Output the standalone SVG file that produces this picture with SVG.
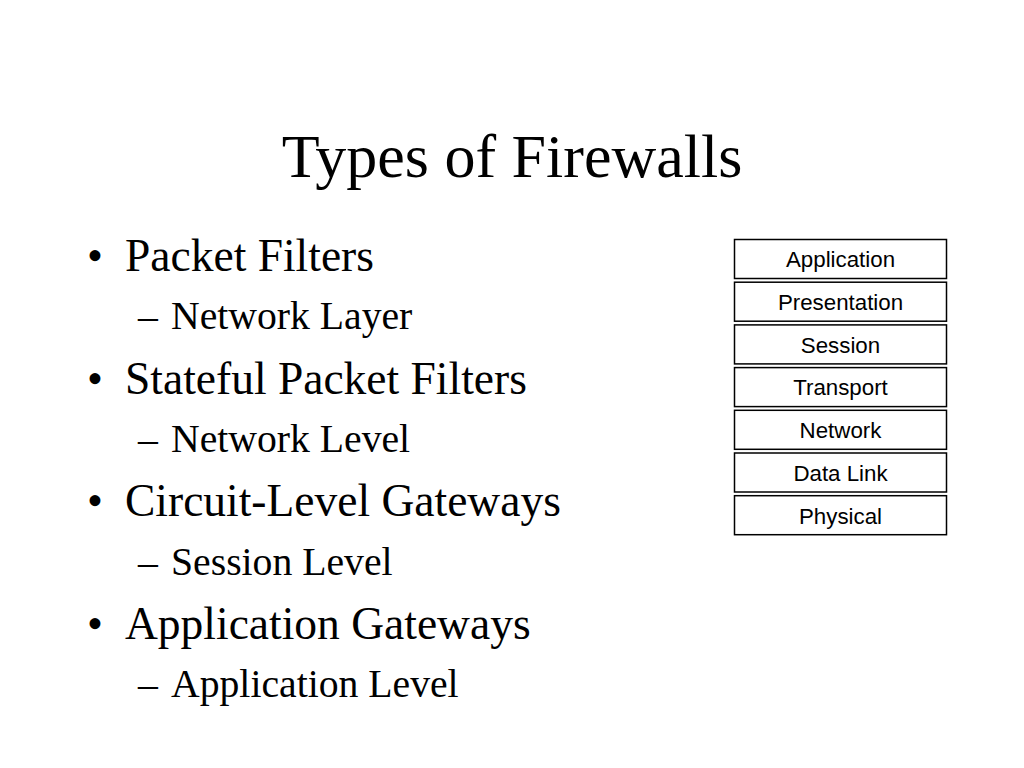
<svg xmlns="http://www.w3.org/2000/svg" width="1024" height="768" viewBox="0 0 1024 768">
<style>
.title{font-family:"Liberation Serif","Times New Roman",serif;font-size:62px;fill:#000}
.l1{font-family:"Liberation Serif","Times New Roman",serif;font-size:45.5px;fill:#000}
.l2{font-family:"Liberation Serif","Times New Roman",serif;font-size:39.7px;fill:#000}
.box rect{fill:#fff;stroke:#000;stroke-width:1.5}
.box text{font-family:"Liberation Sans",Arial,sans-serif;font-size:22.3px;fill:#000;text-anchor:middle}
</style>
<rect x="0" y="0" width="1024" height="768" fill="#fff"/>
<text class="title" x="512" y="177" text-anchor="middle">Types of Firewalls</text>
<g id="bullets">
<text class="l1" x="87" y="271">•</text><text class="l1" x="125" y="271">Packet Filters</text>
<text class="l2" x="138" y="329">–</text><text class="l2" x="171" y="329">Network Layer</text>
<text class="l1" x="87" y="394">•</text><text class="l1" x="125" y="394">Stateful Packet Filters</text>
<text class="l2" x="138" y="452">–</text><text class="l2" x="171" y="452">Network Level</text>
<text class="l1" x="87" y="516">•</text><text class="l1" x="125" y="516">Circuit-Level Gateways</text>
<text class="l2" x="138" y="575">–</text><text class="l2" x="171" y="575">Session Level</text>
<text class="l1" x="87" y="639">•</text><text class="l1" x="125" y="639">Application Gateways</text>
<text class="l2" x="138" y="697">–</text><text class="l2" x="171" y="697">Application Level</text>
</g>
<g id="n-application" class="box"><rect x="734.5" y="239.5" width="212" height="39"/><text x="840.5" y="267.3">Application</text></g>
<g id="n-presentation" class="box"><rect x="734.5" y="282.2" width="212" height="39"/><text x="840.5" y="310">Presentation</text></g>
<g id="n-session" class="box"><rect x="734.5" y="324.9" width="212" height="39"/><text x="840.5" y="352.7">Session</text></g>
<g id="n-transport" class="box"><rect x="734.5" y="367.6" width="212" height="39"/><text x="840.5" y="395.4">Transport</text></g>
<g id="n-network" class="box"><rect x="734.5" y="410.3" width="212" height="39"/><text x="840.5" y="438.1">Network</text></g>
<g id="n-datalink" class="box"><rect x="734.5" y="453" width="212" height="39"/><text x="840.5" y="480.8">Data Link</text></g>
<g id="n-physical" class="box"><rect x="734.5" y="495.7" width="212" height="39"/><text x="840.5" y="523.5">Physical</text></g>
<g id="connectors"></g>
</svg>
